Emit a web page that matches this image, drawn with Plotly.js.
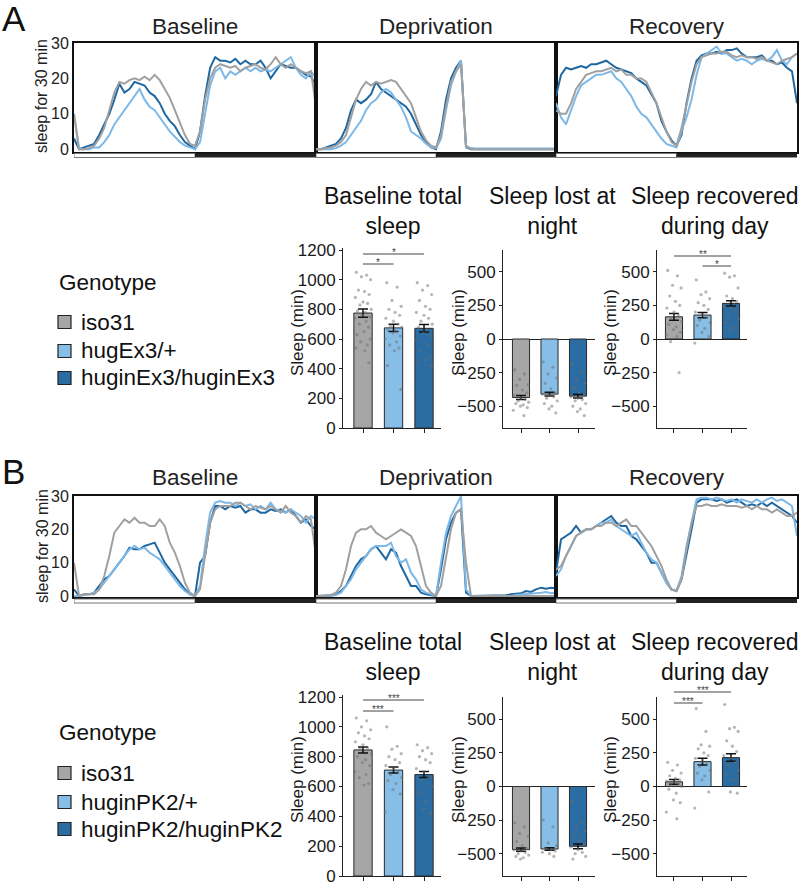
<!DOCTYPE html>
<html><head><meta charset="utf-8">
<script src="https://cdn.plot.ly/plotly-3.0.1.min.js"></script>
<style>html,body{margin:0;padding:0;background:#fff}#chart{width:800px;height:885px}</style>
</head><body><div id="chart"></div>
<script>
// ---------- DATA ----------
const genotypesA = ['iso31','hugEx3/+','huginEx3/huginEx3'];
const genotypesB = ['iso31','huginPK2/+','huginPK2/huginPK2'];
const hours = [0,0.5,1,1.5,2,2.5,3,3.5,4,4.5,5,5.5,6,6.5,7,7.5,8,8.5,9,9.5,10,10.5,11,11.5,12,12.5,13,13.5,14,14.5,15,15.5,16,16.5,17,17.5,18,18.5,19,19.5,20,20.5,21,21.5,22,22.5,23,23.5,24];

// Panel A time courses (sleep per 30 min)
const baseA_iso = [10,0,0,0.3,1,3,6,11,16,19,18.5,19.5,20,19.5,20.5,19.5,21,19.5,17,14.5,11,7.5,4,1.5,1,5,14,20,23,24,23.5,23,23.5,22,23,23.5,24,23,22.5,24,26,24,23,24,23,22,21.5,22,12];
const baseA_het = [10,0,0,0,0.5,0.5,2,4,7,9,11,13,15,17,14,12,11,9,7,5,3.5,2,1,0.5,0,2,10,18,22,23,20,22,21,22,23,22,23,22,22.5,22,23,24,25,26,23,21,20,22,20];
const baseA_hom = [3,0,0.5,1,1.5,4,7,10,14,18.5,16,17,19,18.5,18,16,15,13,10,8,6.5,4,2,1,0,5,15,23,26,25,25,24.5,25.5,24,25,24,24,25,23,20,22,24,23.5,23,23,22,21,20.5,18];
const depA_iso  = [0,0,0.3,0.5,1,2,4,9,14,17,19,18,19,18.5,19,19.5,19,17,15,13,9,5,2.5,1,0.5,4,12,19,22,24,1,0,0,0,0,0,0,0,0,0,0,0,0,0,0,0,0,0,0];
const depA_het  = [0,0,0,0,0.3,1,2,4,6,8,11,13,14,16,17,16,14,12,9,5,4,3,1.5,0.5,0.3,3,11,18,22,25,0.5,0.3,0.2,0.2,0.2,0.2,0.2,0.2,0.2,0.2,0.2,0.2,0.2,0.2,0.2,0.2,0.2,0.2,0.2];
const depA_hom  = [0,0,0.5,1,1.5,3,6,11,14,13,14,15.5,19,17,16,15,14,13,12,10,7,4,2,0.5,0,5,14,20,23,25,0.5,0,0,0,0,0,0,0,0,0,0,0,0,0,0,0,0,0,0];
const recA_iso  = [11,10,10,13,17,19,21,21.5,22,22,22.5,23,22,22.5,21,21,20,20,19,16,13,9,5,2,1,6,13,19,24,26,26.5,27,27,27.5,27.5,26.5,26,26.5,26,26,25.5,26,25,24.5,24,25,25.5,26,27];
const recA_het  = [13,9,7,11,15,18,19,20,21,21,21.5,22,20,19,17,15,12,10,9,7,5,3,1.5,1,0.5,5,9,14,21,26,27,28,29,27,27,26,25,25.5,25,24,25,25.5,25,26,28,25,24,26,27];
const recA_hom  = [15,21,23,22.5,23,23.5,23,24,24,24.5,25,24,23,22.5,22,21.5,20,19,18,15.5,13,8,5,2.5,1,4,13,20,25,26.5,27,27,27.5,27,28,28,28.5,27,26,26,26,26.5,25,25,24,24.5,23,22,13];

// Panel B time courses
const baseB_iso = [10,0,0.5,0.5,0.5,2,6,12,19,21,23,22,23.5,22,22,21,21,23,21,16,13,9,4,1,0,2,12,22,26,27,27,27,28,28,27,26,27,26.5,26,27,26,25,27,25,24,22,24,23,12];
const baseB_het = [0,0,0.3,0.5,1,2,4,6,8,10,12,14,15,14,14.5,13,12,11,9,7,5,3,1.5,0.5,0,3,15,25,28,28.5,28,28,27,28,27,27.5,26,27,26,28,26,25.5,25,26,25,24,22,24,23];
const baseB_hom = [2,0,0.5,0.5,1,3,5,6,8,10,12,14.5,14,14,15,15.5,16,13,10,8,6,4,2,0.5,0,10,12,22,27,27,26,27,26.5,27,25,26,26,25,25,26,25.5,26,25,26,24,22,23,21,20];
const depB_iso  = [0,0,0,0.3,1,3,8,15,19,20,20,21,19,18,17,18,19,20,19,18,15,9,3,1,0,3,12,20,25,26,10,0,0,0,0,0,0,0,0,0,0,0,0,0,0,0,0,0,0];
const depB_het  = [0,0,0,0,0.3,1,3,5,8,10,12,14,15,15,15,16,12,10,11,7,5,2,1,0.5,0,10,19,24,27,30,2,0,0,0,0,0,0,0,0,0,0.3,0.4,0.6,0.7,0.8,1,1.2,0.8,1];
const depB_hom  = [0,0,0,0.2,0.5,1.5,3,6,9,11,12,14,15,13,11,14,13,9,6,3,3,1,0.5,0.3,0,8,17,22,25,26,1,0,0,0,0,0,0,0,0.2,0.5,0.6,0.8,1.5,1.2,2,2.5,2.2,2.5,2.3];
const recB_iso  = [8,9,12,15,18,19,20,20,21,21,22,22,21,22,23,21,21,19,17,15,12,9,5,2,1.5,5,14,22,27,27,27.5,27,27,27.5,27,27,27,26.5,27,26,27,26,26,25,26,25,24,24,25];
const recB_het  = [6,8,12,15,18,19,20,20,21,22,22,23,21,20,19,18,19,16,13,11,10,7,4,2,1.5,6,15,22,29,29.5,29.5,29,29.5,29,28.5,29,28,29,28.5,28,29,28,29,29.5,28.5,29,28,27,18];
const recB_hom  = [7,17,18,19,21,19,20,20,21,22,23,24,22,21,21,18,17,15,13,10,10,7,4,2,1.5,5,12,20,28,29,29,29,28.5,29,28,28.5,29,28,27,27.5,27,28,27,28,27,26,25,24,22];

// Bar summaries (min): means and SEM, order iso31, heterozygote, homozygote
const A_base_mean = [775,675,672],  A_base_sem = [28,25,25];
const A_lost_mean = [-435,-410,-425], A_lost_sem = [15,14,14];
const A_rec_mean  = [165,178,265],  A_rec_sem  = [25,20,20];
const B_base_mean = [845,710,680],  B_base_sem = [20,20,20];
const B_lost_mean = [-470,-465,-445], B_lost_sem = [12,10,18];
const B_rec_mean  = [35,185,215],   B_rec_sem  = [18,25,28];

// Individual flies
const A_base_iso = [1050,1030,1020,1000,930,920,900,880,850,840,830,800,790,780,760,750,740,720,700,680,650,630,600,580,560,540,520,440];
const A_base_het = [980,950,860,820,800,780,760,740,720,700,690,680,660,650,640,620,600,580,560,540,520,420,260];
const A_base_hom = [980,960,930,900,860,820,800,780,760,740,720,700,680,660,640,620,600,560,520,480,460,440,420];
const A_lost_iso = [-230,-260,-300,-340,-345,-380,-400,-420,-440,-450,-460,-470,-480,-490,-500,-510,-530,-570];
const A_lost_het = [-170,-210,-260,-290,-330,-370,-400,-410,-420,-430,-440,-460,-480,-500,-520,-550];
const A_lost_hom = [-190,-250,-300,-330,-360,-400,-420,-430,-440,-450,-460,-480,-500,-520,-540,-570];
const A_rec_iso  = [510,470,400,380,320,280,250,230,200,180,160,130,110,90,70,50,30,20,-20,-250];
const A_rec_het  = [440,350,330,300,270,250,220,200,180,160,140,120,100,80,50,20,-30];
const A_rec_hom  = [490,470,460,380,320,300,280,250,230,210,180,150,120,90,70];
const B_base_iso = [1060,1040,1000,980,960,940,920,900,880,860,850,820,800,780,760,740,700,680,660,620,610];
const B_base_het = [1000,870,850,820,800,780,760,740,720,700,680,660,640,620,580,550,430];
const B_base_hom = [880,860,840,820,800,780,760,720,700,660,640,600,560,500,450,420];
const B_lost_iso = [-270,-300,-350,-370,-410,-440,-460,-470,-480,-490,-500,-510,-520,-530,-540];
const B_lost_het = [-250,-300,-420,-440,-460,-470,-480,-490,-500,-520];
const B_lost_hom = [-110,-270,-300,-330,-360,-400,-430,-450,-470,-490,-500,-520,-540];
const B_rec_iso  = [180,160,120,100,80,60,50,40,30,20,10,0,-20,-50,-100,-120,-190,-240];
const B_rec_het  = [580,410,310,300,280,250,230,210,190,170,150,120,100,80,50,-40,-160];
const B_rec_hom  = [610,440,430,410,340,300,260,230,210,180,160,120,90,50,-40,-50];
const jitter = [-0.22,0.12,-0.05,0.25,-0.15,0.05,0.2,-0.25,0.0,0.15,-0.1,0.27,-0.18,0.08,-0.02,0.22,-0.27,0.1,-0.12,0.18,0.03,-0.2,0.24,-0.08,0.14,-0.23,0.06,0.19,-0.14,0.01];

const tsTitles = ['Baseline','Deprivation','Recovery'];
const barTitles = ['Baseline total<br>sleep','Sleep lost at<br>night','Sleep recovered<br>during day'];
const tsTicks = [0,10,20,30];
const baseTicks = [0,200,400,600,800,1000,1200];
const diffTicks = [-500,-250,0,250,500];

// ---------- BUILD ----------
const lineCol = ['#a0a0a0','#7db8e6','#1f67a1'];
const barCol  = ['#a6a6a6','#87bee8','#2b6ca3'];
const W=800,H=885;
const P = px=>px/W, Q = py=>1-py/H;
const ax = n => n===1?'':String(n);
const traces=[];
const layout={width:W,height:H,margin:{l:0,r:0,t:0,b:0},paper_bgcolor:'#fff',plot_bgcolor:'rgba(0,0,0,0)',
  showlegend:false,font:{family:'Liberation Sans, Arial, sans-serif',color:'#1a1a1a',size:16},shapes:[],annotations:[]};

const tsX=[[74,316],[316,556],[556,797]];
const tsPanels=[
  {first:1, ytop:43, ybot:152, yr:[-0.8,30], lb:[153.5,157.5], sets:[[baseA_iso,baseA_het,baseA_hom],[depA_iso,depA_het,depA_hom],[recA_iso,recA_het,recA_hom]], titleY:26, letter:'A', letterY:18, ytitleY:96},
  {first:4, ytop:496, ybot:597, yr:[-0.3,30], lb:[599,603], sets:[[baseB_iso,baseB_het,baseB_hom],[depB_iso,depB_het,depB_hom],[recB_iso,recB_het,recB_hom]], titleY:477, letter:'B', letterY:471, ytitleY:546}
];
tsPanels.forEach(p=>{
  p.sets.forEach((set,j)=>{
    const n=p.first+j;
    layout['xaxis'+ax(n)]={domain:[P(tsX[j][0]),P(tsX[j][1])],range:[0,24],anchor:'y'+ax(n),showline:true,mirror:true,linecolor:'#111',linewidth:2,showgrid:false,zeroline:false,showticklabels:false,ticks:'',fixedrange:true};
    layout['yaxis'+ax(n)]={domain:[Q(p.ybot),Q(p.ytop)],range:p.yr,anchor:'x'+ax(n),showline:true,mirror:true,linecolor:'#111',linewidth:2,showgrid:false,zeroline:false,showticklabels:j===0,tickvals:tsTicks,ticks:'',tickfont:{size:16,color:'#222'},ticklabeloverflow:'allow',fixedrange:true};
    [2,1,0].forEach(g=>{
      traces.push({type:'scatter',mode:'lines',x:hours,y:set[g],xaxis:'x'+ax(n),yaxis:'y'+ax(n),line:{color:lineCol[g],width:2},hoverinfo:'skip'});
    });
    layout.shapes.push({type:'rect',xref:'x'+ax(n),yref:'paper',x0:0,x1:12,y0:Q(p.lb[1]),y1:Q(p.lb[0]),fillcolor:'#fff',line:{color:'#777',width:1}});
    layout.shapes.push({type:'rect',xref:'x'+ax(n),yref:'paper',x0:12,x1:24,y0:Q(p.lb[1]),y1:Q(p.lb[0]),fillcolor:'#222',line:{width:0}});
    layout.annotations.push({xref:'paper',yref:'paper',x:P((tsX[j][0]+tsX[j][1])/2),y:Q(p.titleY),text:tsTitles[j],showarrow:false,xanchor:'center',yanchor:'middle',font:{size:22.5,color:'#222'}});
  });
  layout.annotations.push({xref:'paper',yref:'paper',x:P(0),y:Q(p.letterY),text:p.letter,showarrow:false,xanchor:'left',yanchor:'middle',font:{size:35,color:'#111'}});
  layout.annotations.push({xref:'paper',yref:'paper',x:P(42),y:Q(p.ytitleY),text:'sleep for 30 min',textangle:-90,showarrow:false,xanchor:'center',yanchor:'middle',font:{size:16,color:'#222'}});
});

const barX=[{d:[343,441],r:[-0.656,2.557]},{d:[503,595],r:[-0.632,2.596]},{d:[657,747],r:[-0.596,2.561]}];
const ytitleX=[297,458,610];
const barPanels=[
  {first:7, ytop:[248,250,250], ybot:428, titleY:211, ytY:333, means:[A_base_mean,A_lost_mean,A_rec_mean], sems:[A_base_sem,A_lost_sem,A_rec_sem],
   pts:[[A_base_iso,A_base_het,A_base_hom],[A_lost_iso,A_lost_het,A_lost_hom],[A_rec_iso,A_rec_het,A_rec_hom]],
   legendY:[283,322,351,378], names:genotypesA,
   sig:[{c:0,a:0,b:2,y:254,t:'*'},{c:0,a:0,b:1,y:264,t:'*'},{c:2,a:0,b:2,y:256,t:'**'},{c:2,a:1,b:2,y:266,t:'*'}]},
  {first:10, ytop:[695,697,697], ybot:876, titleY:657, ytY:780, means:[B_base_mean,B_lost_mean,B_rec_mean], sems:[B_base_sem,B_lost_sem,B_rec_sem],
   pts:[[B_base_iso,B_base_het,B_base_hom],[B_lost_iso,B_lost_het,B_lost_hom],[B_rec_iso,B_rec_het,B_rec_hom]],
   legendY:[732,773,802,829], names:genotypesB,
   sig:[{c:0,a:0,b:2,y:700,t:'***'},{c:0,a:0,b:1,y:711,t:'***'},{c:2,a:0,b:2,y:692,t:'***'},{c:2,a:0,b:1,y:703,t:'***'}]}
];
barPanels.forEach(p=>{
  for(let j=0;j<3;j++){
    const n=p.first+j;
    let yr, tv;
    if(j===0){ yr=[0, 1200*(p.ybot-p.ytop[0])/(p.ybot-p.ytop[0]-2)]; tv=baseTicks; }
    else { const h=(p.ybot-p.ytop[j])/2; const ppu = 67.2/500; yr=[-h/ppu, h/ppu]; tv=diffTicks; }
    layout['xaxis'+ax(n)]={domain:[P(barX[j].d[0]),P(barX[j].d[1])],range:barX[j].r,anchor:'y'+ax(n),showline:true,linecolor:'#222',linewidth:1,showgrid:false,zeroline:false,
      tickvals:[0,1,2],ticks:'outside',ticklen:4,tickcolor:'#222',showticklabels:false,fixedrange:true};
    layout['yaxis'+ax(n)]={domain:[Q(p.ybot),Q(p.ytop[j])],range:yr,anchor:'x'+ax(n),showline:true,linecolor:'#222',linewidth:1,showgrid:false,
      zeroline:j!==0,zerolinecolor:'#222',zerolinewidth:1,tickvals:tv,ticks:'outside',ticklen:3,tickcolor:'#222',tickfont:{size:17,color:'#1a1a1a'},ticklabeloverflow:'allow',fixedrange:true};
    traces.push({type:'bar',x:[0,1,2],y:p.means[j],width:0.6,xaxis:'x'+ax(n),yaxis:'y'+ax(n),
      marker:{color:barCol,line:{color:'#2a2a2a',width:1}},
      error_y:{type:'data',array:p.sems[j],visible:true,color:'#111',thickness:1.5,width:5},hoverinfo:'skip'});
    p.pts[j].forEach((vals,g)=>{
      traces.push({type:'scatter',mode:'markers',x:vals.map((v,i)=>g+jitter[i%jitter.length]),y:vals,xaxis:'x'+ax(n),yaxis:'y'+ax(n),
        marker:{size:3.2,color:'rgba(110,110,110,0.5)'},hoverinfo:'skip',cliponaxis:false});
    });
    layout.annotations.push({xref:'paper',yref:'paper',x:P((barX[j].d[0]+barX[j].d[1])/2 + (j===0?1:j===1?3:13)),y:Q(p.titleY),text:barTitles[j],showarrow:false,xanchor:'center',yanchor:'middle',font:{size:23,color:'#111'}});
    layout.annotations.push({xref:'paper',yref:'paper',x:P(ytitleX[j]),y:Q(p.ytY),text:'Sleep (min)',textangle:-90,showarrow:false,xanchor:'center',yanchor:'middle',font:{size:17,color:'#1a1a1a'}});
  }
  p.sig.forEach(s=>{
    const n=p.first+s.c;
    layout.shapes.push({type:'line',xref:'x'+ax(n),yref:'paper',x0:s.a,x1:s.b,y0:Q(s.y),y1:Q(s.y),line:{color:'#444',width:1}});
    layout.annotations.push({xref:'x'+ax(n),yref:'paper',x:(s.a+s.b)/2,y:Q(s.y+5),text:s.t,showarrow:false,xanchor:'center',yanchor:'bottom',borderpad:0,font:{size:10,color:'#444'}});
  });
  // legend
  layout.annotations.push({xref:'paper',yref:'paper',x:P(57),y:Q(p.legendY[0]),text:'Genotype',showarrow:false,xanchor:'left',yanchor:'middle',font:{size:22.5,color:'#111'}});
  p.names.forEach((nm,g)=>{
    const yc=p.legendY[g+1];
    layout.shapes.push({type:'rect',xref:'paper',yref:'paper',x0:P(58),x1:P(71),y0:Q(yc+6.5),y1:Q(yc-6.5),fillcolor:barCol[g],line:{color:'#222',width:1.2}});
    layout.annotations.push({xref:'paper',yref:'paper',x:P(79),y:Q(yc),text:nm,showarrow:false,xanchor:'left',yanchor:'middle',font:{size:22.5,color:'#111'}});
  });
});

Plotly.newPlot('chart',traces,layout,{staticPlot:true,displayModeBar:false});
</script></body></html>
